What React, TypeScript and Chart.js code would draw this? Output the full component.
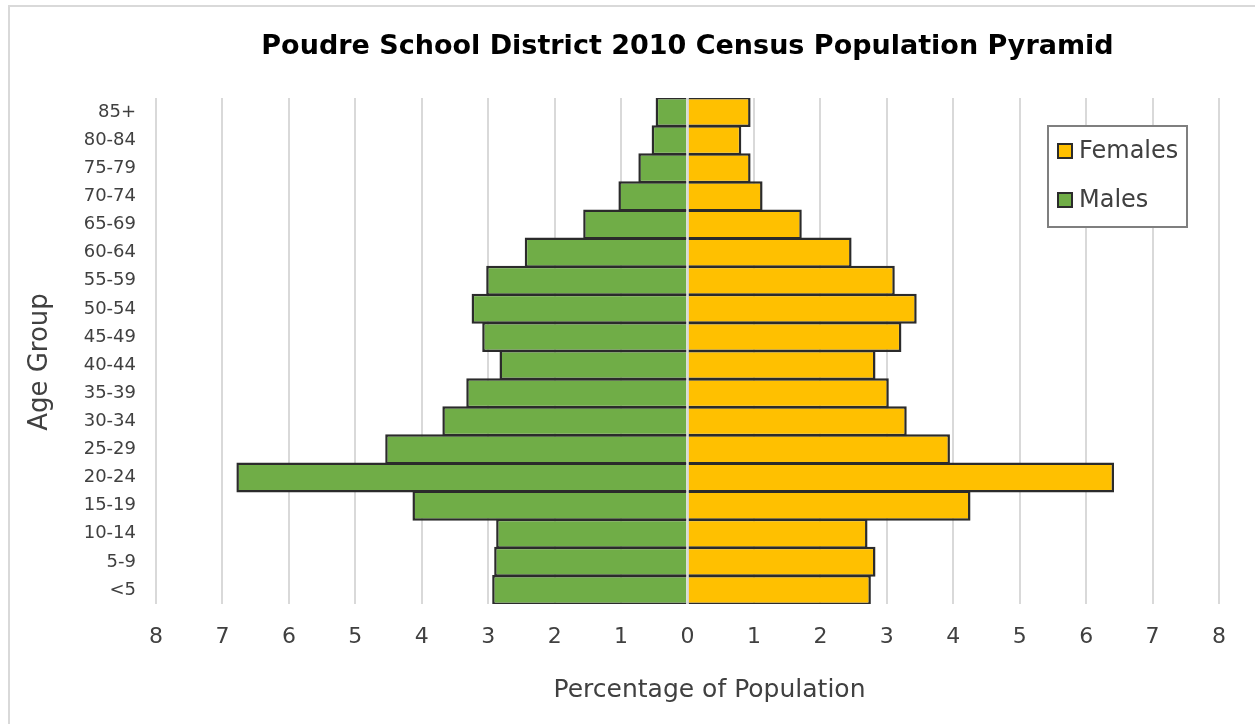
import React, { useEffect, useRef } from 'react';
import { Chart, registerables } from 'chart.js';

Chart.register(...registerables);

const ageGroups = ['<5', '5-9', '10-14', '15-19', '20-24', '25-29', '30-34', '35-39', '40-44', '45-49', '50-54', '55-59', '60-64', '65-69', '70-74', '75-79', '80-84', '85+'];
const males = [2.94, 2.91, 2.88, 4.14, 6.79, 4.55, 3.69, 3.33, 2.83, 3.09, 3.25, 3.03, 2.45, 1.57, 1.04, 0.74, 0.54, 0.48];
const females = [2.76, 2.83, 2.71, 4.26, 6.42, 3.95, 3.30, 3.03, 2.83, 3.22, 3.45, 3.12, 2.47, 1.72, 1.13, 0.95, 0.81, 0.95];
const xMin = -8;
const xMax = 8;
const chartTitle = 'Poudre School District 2010 Census Population Pyramid';
const xTitle = 'Percentage of Population';
const yTitle = 'Age Group';

const FONT = '"DejaVu Sans", sans-serif';
const GREEN = '#70AD47';
const GOLD = '#FFC000';
const EDGE = '#2b2b2b';
const TEXT = '#404040';

const frame = {
  id: 'frame',
  beforeDraw(chart: any) {
    const ctx = chart.ctx;
    ctx.save();
    ctx.fillStyle = '#ffffff';
    ctx.fillRect(0, 0, chart.width, chart.height);
    ctx.strokeStyle = '#d9d9d9';
    ctx.lineWidth = 2;
    ctx.strokeRect(9, 6, chart.width + 20, chart.height + 20);
    ctx.restore();
  },
};

const zeroLine = {
  id: 'zeroLine',
  afterDatasetsDraw(chart: any) {
    const { ctx, chartArea } = chart;
    const x = chart.scales.x.getPixelForValue(0);
    ctx.save();
    ctx.strokeStyle = '#d9d9d9';
    ctx.lineWidth = 2;
    ctx.beginPath();
    ctx.moveTo(x, chartArea.top);
    ctx.lineTo(x, chartArea.bottom);
    ctx.stroke();
    ctx.restore();
  },
};

const axisTitles = {
  id: 'axisTitles',
  afterDraw(chart: any) {
    const { ctx, chartArea } = chart;
    ctx.save();
    ctx.fillStyle = TEXT;
    ctx.textAlign = 'center';
    ctx.textBaseline = 'middle';
    ctx.font = `25px ${FONT}`;
    ctx.fillText(xTitle, (chartArea.left + chartArea.right) / 2 + 22, 690);
    ctx.translate(40, (chartArea.top + chartArea.bottom) / 2 + 11);
    ctx.rotate(-Math.PI / 2);
    ctx.font = `26px ${FONT}`;
    ctx.fillText(yTitle, 0, 0);
    ctx.restore();
  },
};

const boxLegend = {
  id: 'boxLegend',
  afterDraw(chart: any) {
    const ctx = chart.ctx;
    const left = 1048, top = 126, w = 139, h = 101;
    ctx.save();
    ctx.fillStyle = '#ffffff';
    ctx.fillRect(left, top, w, h);
    ctx.strokeStyle = '#7f7f7f';
    ctx.lineWidth = 2;
    ctx.strokeRect(left, top, w, h);
    const items = [chart.data.datasets[1], chart.data.datasets[0]];
    const rows = [151, 200];
    items.forEach((ds: any, i: number) => {
      const cy = rows[i];
      ctx.fillStyle = ds.backgroundColor;
      ctx.fillRect(left + 10, cy - 7, 14, 14);
      ctx.strokeStyle = EDGE;
      ctx.lineWidth = 2;
      ctx.strokeRect(left + 10, cy - 7, 14, 14);
      ctx.fillStyle = TEXT;
      ctx.font = `24px ${FONT}`;
      ctx.textBaseline = 'middle';
      ctx.textAlign = 'left';
      ctx.fillText(ds.label, left + 31, cy + 1);
    });
    ctx.restore();
  },
};

export default function App() {
  const ref = useRef<HTMLCanvasElement>(null);
  useEffect(() => {
    if (!ref.current) return;
    const chart = new Chart(ref.current, {
      type: 'bar',
      data: {
        labels: ageGroups,
        datasets: [
          {
            label: 'Males',
            data: males.map((v) => -v),
            backgroundColor: GREEN,
            borderColor: EDGE,
            borderWidth: 2.5,
            barPercentage: 1.07,
            categoryPercentage: 1,
          },
          {
            label: 'Females',
            data: females,
            backgroundColor: GOLD,
            borderColor: EDGE,
            borderWidth: 2.5,
            barPercentage: 1.07,
            categoryPercentage: 1,
          },
        ],
      },
      options: {
        indexAxis: 'y',
        responsive: false,
        animation: false,
        layout: { padding: { left: 10, right: 36, top: 10, bottom: 10 } },
        plugins: {
          legend: { display: false },
          tooltip: { enabled: false },
          title: {
            display: true,
            text: chartTitle,
            fullSize: false,
            color: '#000000',
            font: { family: FONT, size: 27, weight: 'bold' },
            padding: { top: 21, bottom: 34.6 },
          },
        },
        scales: {
          x: {
            stacked: true,
            min: xMin,
            max: xMax,
            ticks: {
              stepSize: 1,
              color: TEXT,
              font: { family: FONT, size: 22 },
              padding: 20,
              callback: (v: any) => String(Math.abs(Number(v))),
            },
            grid: { color: '#d9d9d9', lineWidth: 2, drawTicks: false },
            border: { display: false },
            afterFit: (s: any) => { s.height = 110; },
          },
          y: {
            stacked: true,
            reverse: true,
            ticks: {
              color: TEXT,
              font: { family: FONT, size: 18 },
              padding: 20,
              autoSkip: false,
            },
            grid: { display: false, drawTicks: false },
            border: { display: false },
            afterFit: (s: any) => { s.width = 146; },
          },
        },
      },
      plugins: [frame, zeroLine, axisTitles, boxLegend],
    });
    return () => chart.destroy();
  }, []);
  return (
    <div style={{ position: 'fixed', left: 0, top: 0, width: 1255, height: 724, background: '#fff' }}>
      <canvas ref={ref} width={1255} height={724} style={{ display: 'block' }} />
    </div>
  );
}
